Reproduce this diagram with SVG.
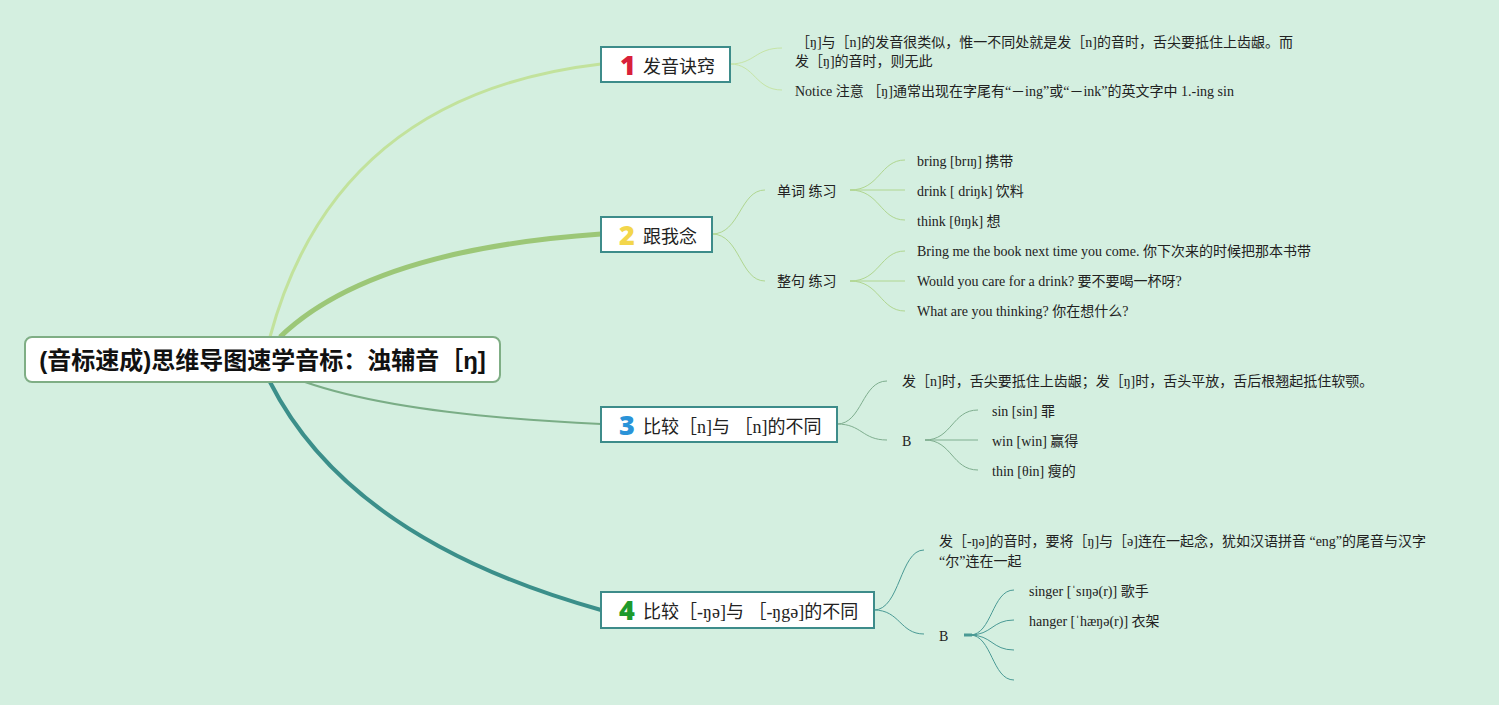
<svg xmlns="http://www.w3.org/2000/svg" width="1499" height="705" viewBox="0 0 1499 705">
<style>
.bg{fill:#d4efe0}
.root{fill:#ffffff;stroke:#7fae85;stroke-width:2}
.node{fill:#ffffff;stroke:#3d8c8a;stroke-width:2}
.rt{font-family:"Liberation Sans","Noto Sans CJK SC",sans-serif;font-weight:bold;font-size:24px;fill:#111}
.nt{font-family:"Liberation Serif","Noto Sans CJK SC",serif;font-size:18px;fill:#222}
.num{font-family:"Open Sans","DejaVu Sans",sans-serif;font-weight:800;font-size:27px}
.ct{font-family:"Liberation Serif","Noto Sans CJK SC",serif;font-size:14px;fill:#222}
.l1{fill:none;stroke:#c6e4a6;stroke-width:1}
.l2{fill:none;stroke:#b0d690;stroke-width:1}
.l3{fill:none;stroke:#7fae8f;stroke-width:1}
.l4{fill:none;stroke:#4a9a95;stroke-width:1}
</style>
<rect class="bg" x="0" y="0" width="1499" height="705"/>
<g id="connectors">
<path d="M270,337 Q335,95 601,64" fill="none" stroke="#c2e29c" stroke-width="3"/>
<path d="M280,337 Q370,250 601,234" fill="none" stroke="#9cc777" stroke-width="5"/>
<path d="M305,382 Q400,415 601,424" fill="none" stroke="#7aad86" stroke-width="2"/>
<path d="M270,382 Q350,540 601,610" fill="none" stroke="#3b8f8a" stroke-width="4"/>
<path class="l1" d="M730,64 C755,64 755,48 782,48"/>
<path class="l1" d="M730,64 C755,64 755,90 782,90"/>
<path class="l2" d="M712,234 C740,234 740,190 765,190"/>
<path class="l2" d="M712,234 C740,234 740,281 765,281"/>
<path class="l2" d="M850,190 C880,190 880,160 905,160"/>
<path class="l2" d="M850,190 L905,190"/>
<path class="l2" d="M850,190 C880,190 880,220 905,220"/>
<path class="l2" d="M850,281 C880,281 880,251 905,251"/>
<path class="l2" d="M850,281 L905,281"/>
<path class="l2" d="M850,281 C880,281 880,311 905,311"/>
<path class="l3" d="M837,424 C862,424 862,381 887,381"/>
<path class="l3" d="M837,424 C862,424 862,440 887,440"/>
<path class="l3" d="M925,440 C952,440 952,410 978,410"/>
<path class="l3" d="M925,440 L978,440"/>
<path class="l3" d="M925,440 C952,440 952,470 978,470"/>
<path class="l4" d="M874,610 C900,610 900,550 924,550"/>
<path class="l4" d="M874,610 C900,610 900,634 924,634"/>
<path d="M964,635 L972,635" stroke="#4a9a95" stroke-width="3"/>
<path class="l4" d="M970,635 C992,635 992,590 1014,590"/>
<path class="l4" d="M970,635 C992,635 992,620 1014,620"/>
<path class="l4" d="M970,635 C992,635 992,650 1014,650"/>
<path class="l4" d="M970,635 C992,635 992,680 1014,680"/>
</g>
<g id="root">
<rect class="root" x="25" y="337" width="475" height="45" rx="7"/>
<text class="rt" x="262.5" y="369" text-anchor="middle">(音标速成)思维导图速学音标：浊辅音［ŋ]</text>
</g>
<g id="n1">
<rect class="node" x="601" y="47" width="129" height="35"/>
<text class="num" x="620" y="75" fill="#d9203a">1</text>
<text class="nt" x="643" y="73">发音诀窍</text>
</g>
<g id="n1a"><text class="ct"><tspan x="796" y="47">［ŋ]与［n]的发音很类似，惟一不同处就是发［n]的音时，舌尖要抵住上齿龈。而</tspan><tspan x="795" y="66">发［ŋ]的音时，则无此</tspan></text></g>
<g id="n1b"><text class="ct" x="795" y="96">Notice 注意 ［ŋ]通常出现在字尾有“－ing”或“－ink”的英文字中 1.-ing sin</text></g>
<g id="n2">
<rect class="node" x="601" y="217" width="111" height="35"/>
<text class="num" x="619" y="245" fill="#f3d64b">2</text>
<text class="nt" x="643" y="243">跟我念</text>
</g>
<g id="n2a"><text class="ct" x="777" y="196">单词 练习</text></g>
<g id="n2a1"><text class="ct" x="917" y="166">bring [brɪŋ] 携带</text></g>
<g id="n2a2"><text class="ct" x="917" y="196">drink [ driŋk] 饮料</text></g>
<g id="n2a3"><text class="ct" x="917" y="226">think [θɪŋk] 想</text></g>
<g id="n2b"><text class="ct" x="777" y="286">整句 练习</text></g>
<g id="n2b1"><text class="ct" x="917" y="256">Bring me the book next time you come. 你下次来的时候把那本书带</text></g>
<g id="n2b2"><text class="ct" x="917" y="286">Would you care for a drink? 要不要喝一杯呀?</text></g>
<g id="n2b3"><text class="ct" x="917" y="316">What are you thinking? 你在想什么?</text></g>
<g id="n3">
<rect class="node" x="601" y="407" width="236" height="35"/>
<text class="num" x="619" y="435" fill="#2a93d8">3</text>
<text class="nt" x="643" y="433">比较［n]与 ［n]的不同</text>
</g>
<g id="n3a"><text class="ct" x="902" y="386">发［n]时，舌尖要抵住上齿龈；发［ŋ]时，舌头平放，舌后根翘起抵住软颚。</text></g>
<g id="n3b"><text class="ct" x="902" y="446">B</text></g>
<g id="n3b1"><text class="ct" x="992" y="416">sin [sin] 罪</text></g>
<g id="n3b2"><text class="ct" x="992" y="446">win [win] 赢得</text></g>
<g id="n3b3"><text class="ct" x="992" y="476">thin [θin] 瘦的</text></g>
<g id="n4">
<rect class="node" x="601" y="592" width="273" height="36"/>
<text class="num" x="619" y="620" fill="#1d9a2c">4</text>
<text class="nt" x="643" y="618">比较［-ŋə]与 ［-ŋgə]的不同</text>
</g>
<g id="n4a"><text class="ct"><tspan x="939" y="546">发［-ŋə]的音时，要将［ŋ]与［ə]连在一起念，犹如汉语拼音 “eng”的尾音与汉字</tspan><tspan x="939" y="566">“尔”连在一起</tspan></text></g>
<g id="n4b"><text class="ct" x="939" y="641">B</text></g>
<g id="n4b1"><text class="ct" x="1029" y="596">singer [ˈsɪŋə(r)] 歌手</text></g>
<g id="n4b2"><text class="ct" x="1029" y="626">hanger [ˈhæŋə(r)] 衣架</text></g>
</svg>
